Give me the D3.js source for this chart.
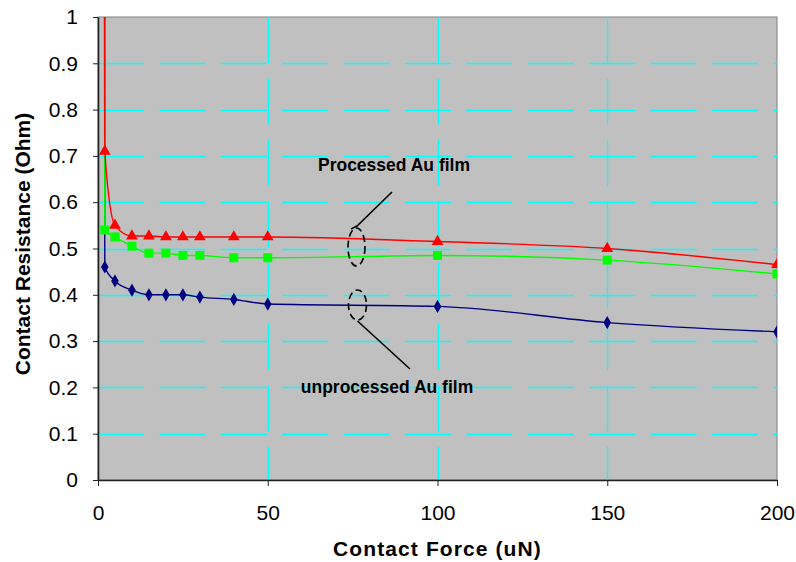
<!DOCTYPE html>
<html><head><meta charset="utf-8">
<script src="https://cdn.jsdelivr.net/npm/d3@7"></script>
<style>body{margin:0;background:#fff}svg{display:block}</style>
</head><body>
<script>
const forces = [1, 2, 5, 10, 15, 20, 25, 30, 40, 50, 100, 150, 200];
const processedRed = [20.0, 0.71, 0.55, 0.527, 0.527, 0.525, 0.525, 0.525, 0.525, 0.525, 0.515, 0.50, 0.465];
const processedGreen = [12.0, 0.54, 0.525, 0.505, 0.49, 0.49, 0.485, 0.485, 0.48, 0.48, 0.485, 0.475, 0.445];
const unprocessedBlue = [8.0, 0.46, 0.43, 0.41, 0.40, 0.40, 0.40, 0.395, 0.39, 0.38, 0.375, 0.34, 0.32];
const xTicks = [0, 50, 100, 150, 200];
const yTicks = [0, 0.1, 0.2, 0.3, 0.4, 0.5, 0.6, 0.7, 0.8, 0.9, 1];

const W = 796, H = 562;
const L = 98, R = 777, T = 17, B = 480;
const x = d3.scaleLinear().domain([0, 200]).range([L, R]);
const y = d3.scaleLinear().domain([0, 1]).range([B, T]);
const font = "Liberation Sans, Arial, sans-serif";

const svg = d3.select("body").append("svg").attr("width", W).attr("height", H);
svg.append("rect").attr("width", W).attr("height", H).attr("fill", "#fff");
svg.append("defs").append("clipPath").attr("id", "clip")
  .append("rect").attr("x", L).attr("y", T).attr("width", R - L).attr("height", B - T);

svg.append("rect").attr("x", L).attr("y", T).attr("width", R - L).attr("height", B - T)
  .attr("fill", "#C0C0C0").attr("stroke", "#808080").attr("stroke-width", 1);

// gridlines
svg.append("g").selectAll("line").data(yTicks.filter(d => d > 0 && d < 1)).join("line")
  .attr("x1", L).attr("x2", R).attr("y1", d => Math.round(y(d)) + 0.5).attr("y2", d => Math.round(y(d)) + 0.5)
  .attr("stroke", "#00FFFF").attr("stroke-width", 1.3).attr("stroke-dasharray", "46,15.4");
svg.append("g").selectAll("line").data(xTicks.filter(d => d > 0 && d < 200)).join("line")
  .attr("x1", d => Math.round(x(d)) + 0.5).attr("x2", d => Math.round(x(d)) + 0.5).attr("y1", T).attr("y2", B)
  .attr("stroke", "#00FFFF").attr("stroke-width", 1.3).attr("stroke-dasharray", "46,15.4");

// axes
const xAxis = svg.append("g").attr("transform", `translate(0,${B})`)
  .call(d3.axisBottom(x).tickValues(xTicks).tickFormat(d3.format("d")).tickSizeOuter(0).tickSizeInner(6).tickPadding(19));
const yAxis = svg.append("g").attr("transform", `translate(${L},0)`)
  .call(d3.axisLeft(y).tickValues(yTicks).tickFormat(d => d === 0 || d === 1 ? String(d) : d3.format(".1f")(d)).tickSizeOuter(0).tickSizeInner(5).tickPadding(15));
[xAxis, yAxis].forEach(g => {
  g.select(".domain").attr("stroke", "#222").attr("stroke-width", 1.6);
  g.selectAll(".tick line").attr("stroke", "#222");
  g.selectAll("text").attr("font-family", font).attr("font-size", 21).attr("fill", "#000");
});

// titles
svg.append("text").attr("x", (L + R) / 2).attr("y", 556).attr("text-anchor", "middle")
  .attr("font-family", font).attr("font-weight", "bold").attr("font-size", 21).attr("letter-spacing", 1.1)
  .text("Contact Force (uN)");
svg.append("text").attr("transform", `translate(30,244) rotate(-90)`).attr("text-anchor", "middle")
  .attr("font-family", font).attr("font-weight", "bold").attr("font-size", 21)
  .text("Contact Resistance (Ohm)");

// series
const series = [
  { vals: unprocessedBlue, color: "#000080", marker: d3.symbolDiamond, size: 50 },
  { vals: processedGreen, color: "#00FF00", marker: d3.symbolSquare, size: 81 },
  { vals: processedRed, color: "#FF0000", marker: d3.symbolTriangle, size: 60 }
];
const plot = svg.append("g").attr("clip-path", "url(#clip)");
const line = d3.line().x(d => x(d[0])).y(d => y(d[1])).curve(d3.curveMonotoneX);
series.forEach(s => {
  const pts = forces.map((f, i) => [f, s.vals[i]]);
  plot.append("path").datum(pts).attr("d", line).attr("fill", "none")
    .attr("stroke", s.color).attr("stroke-width", 1.4);
});
series.forEach(s => {
  const pts = forces.map((f, i) => [f, s.vals[i]]).filter(p => p[1] <= 1);
  plot.append("g").selectAll("path").data(pts).join("path")
    .attr("transform", p => `translate(${x(p[0])},${y(p[1])})`)
    .attr("d", d3.symbol().type(s.marker).size(s.size)).attr("fill", s.color);
});

// annotations
svg.append("text").attr("x", 394).attr("y", 171).attr("text-anchor", "middle")
  .attr("font-family", font).attr("font-weight", "bold").attr("font-size", 17.5).text("Processed Au film");
svg.append("text").attr("x", 387).attr("y", 393).attr("text-anchor", "middle")
  .attr("font-family", font).attr("font-weight", "bold").attr("font-size", 17.5).text("unprocessed Au film");
const ann = svg.append("g").attr("fill", "none").attr("stroke", "#000").attr("stroke-width", 1.6);
ann.append("ellipse").attr("cx", 356.5).attr("cy", 247).attr("rx", 8.5).attr("ry", 19).attr("stroke-dasharray", "7,4");
ann.append("polyline").attr("points", "351,229 357,226 392,192");
ann.append("ellipse").attr("cx", 357.5).attr("cy", 305).attr("rx", 9).attr("ry", 15).attr("stroke-dasharray", "7,4");
ann.append("line").attr("x1", 357.5).attr("y1", 321).attr("x2", 410).attr("y2", 369);
</script>
</body></html>
